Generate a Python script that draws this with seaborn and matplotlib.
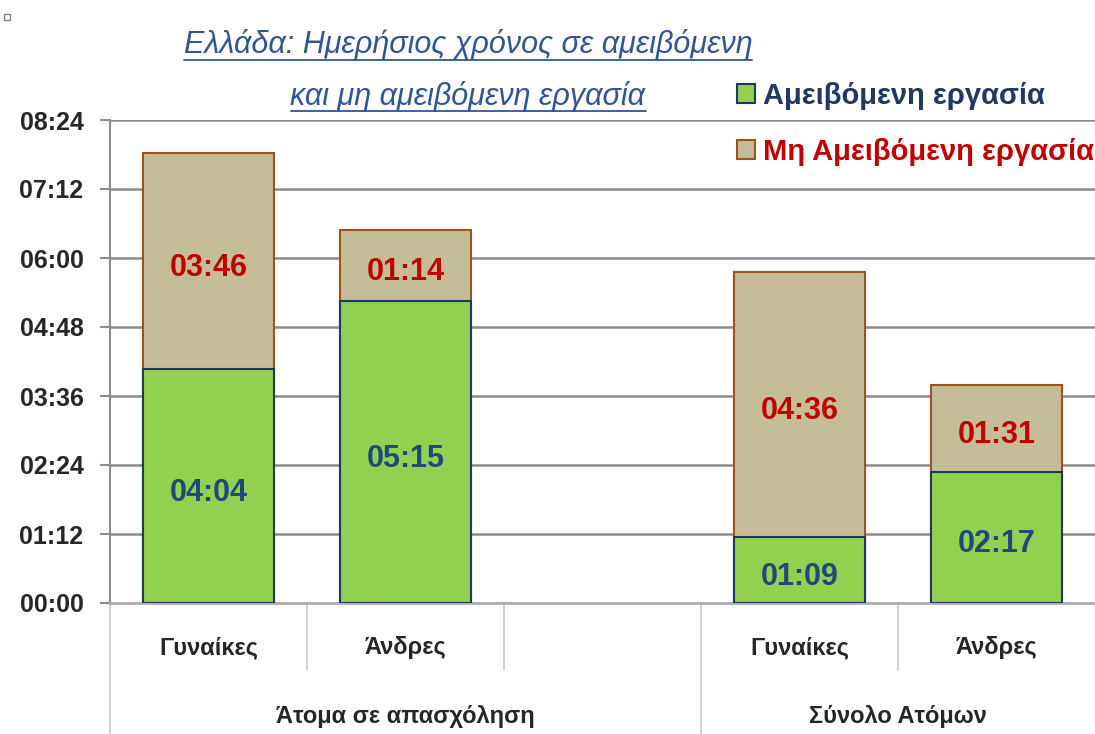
import numpy as np
import pandas as pd
import matplotlib.pyplot as plt
import seaborn as sns
from matplotlib.patches import Patch

# data (minutes per day)
slots = ['Γυναίκες', 'Άνδρες', '', 'Γυναίκες', 'Άνδρες']
groups = ['Άτομα σε απασχόληση', 'Σύνολο Ατόμων']
paid = [244, 315, np.nan, 69, 137]      # Αμειβόμενη εργασία
unpaid = [226, 74, np.nan, 276, 91]     # Μη Αμειβόμενη εργασία
yticks = list(range(0, 505, 72))

def hhmm(m):
    return f'{int(m) // 60:02d}:{int(m) % 60:02d}'

df = pd.DataFrame({'slot': [f's{i}' for i in range(len(slots))],
                   'paid': paid, 'unpaid': unpaid})
df['total'] = df['paid'] + df['unpaid']

sns.set_style('white')
plt.rcParams['font.family'] = ['Liberation Sans', 'DejaVu Sans']

fig = plt.figure(figsize=(10.95, 7.34), dpi=100)
ax = fig.add_axes([110 / 1095, 1 - 603 / 734, 985 / 1095, 483 / 734])

green, tan = '#92d050', '#c4bd97'
navy, brown = '#1f3864', '#a0521e'
blue_txt, red_txt = '#1f497d', '#c00000'

order = list(df['slot'])
sns.barplot(data=df, x='slot', y='total', order=order, color=tan, saturation=1,
            width=0.67, edgecolor=brown, linewidth=1.5, ax=ax, zorder=3)
sns.barplot(data=df, x='slot', y='paid', order=order, color=green, saturation=1,
            width=0.67, edgecolor=navy, linewidth=1.5, ax=ax, zorder=4)

ax.set_ylim(0, 504)
ax.set_xlim(-0.5, 4.5)
ax.set_yticks(yticks)
ax.set_yticklabels([hhmm(t) for t in yticks], fontsize=18, fontweight='bold')
ax.yaxis.grid(True, color='#8c8c8c', linewidth=1.8, zorder=0)
ax.set_axisbelow(True)
ax.tick_params(axis='y', length=7, width=1.5, color='#8c8c8c', left=True, pad=12)
ax.tick_params(axis='x', bottom=False, labelbottom=False)
ax.set_xlabel('')
ax.set_ylabel('')
for s in ['top', 'right']:
    ax.spines[s].set_visible(False)
ax.spines['left'].set_color('#8c8c8c')
ax.spines['left'].set_linewidth(1.5)
ax.spines['bottom'].set_color('#b0b0b0')
ax.spines['bottom'].set_linewidth(2)

# value labels
for i, (p, u) in enumerate(zip(paid, unpaid)):
    if np.isnan(p):
        continue
    ax.text(i, p / 2 - 7, hhmm(p), ha='center', va='center', fontsize=22,
            fontweight='bold', color=blue_txt, zorder=5)
    ax.text(i, p + u / 2 - 7, hhmm(u), ha='center', va='center', fontsize=22,
            fontweight='bold', color=red_txt, zorder=5)

# two-level category axis
trans = ax.get_xaxis_transform()
for i, lab in enumerate(slots):
    ax.text(i, -0.093, lab, transform=trans, ha='center', va='center',
            fontsize=17, fontweight='bold')
for xb in [0.5, 1.5, 3.5]:
    ax.plot([xb, xb], [0, -0.139], transform=trans, color='#c8c8c8', lw=1.2, clip_on=False)
for xb in [-0.5, 2.5]:
    ax.plot([xb, xb], [0, -0.28], transform=trans, color='#c8c8c8', lw=1.2, clip_on=False)
ax.text(1.0, -0.236, groups[0], transform=trans, ha='center', va='center',
        fontsize=17, fontweight='bold')
ax.text(3.5, -0.236, groups[1], transform=trans, ha='center', va='center',
        fontsize=17, fontweight='bold')

# title
title_col = '#2f5597'
for txt, yy in [('Ελλάδα: Ημερήσιος χρόνος σε αμειβόμενη', 45),
                ('και μη αμειβόμενη εργασία', 96)]:
    t = fig.text(468 / 1095, 1 - yy / 734, txt, ha='center', va='center',
                 fontsize=22, fontstyle='italic', color=title_col)
    fig.canvas.draw()
    bb = t.get_window_extent()
    y0 = bb.y0 + 1
    fig.add_artist(plt.Line2D([bb.x0, bb.x1], [y0, y0], transform=None,
                              color=title_col, lw=1.3))

# legend
handles = [Patch(facecolor=green, edgecolor=navy, lw=1.5, label='Αμειβόμενη εργασία'),
           Patch(facecolor=tan, edgecolor=brown, lw=1.5, label='Μη Αμειβόμενη εργασία')]
leg = fig.legend(handles=handles, loc='upper left', bbox_to_anchor=(737 / 1095, 1 - 82 / 734),
                 frameon=False, prop={'size': 21, 'weight': 'bold'}, handlelength=0.6,
                 handleheight=0.6, handletextpad=0.3, labelspacing=0.95, borderaxespad=0,
                 borderpad=0)
for txt, c in zip(leg.get_texts(), [navy, red_txt]):
    txt.set_color(c)

# tiny marker in corner
fig.add_artist(plt.Rectangle((4 / 1095, 1 - 20 / 734), 6 / 1095, 6 / 734,
                             transform=fig.transFigure, facecolor='white',
                             edgecolor='#808080', lw=1))

fig.savefig('out.png', dpi=100)
